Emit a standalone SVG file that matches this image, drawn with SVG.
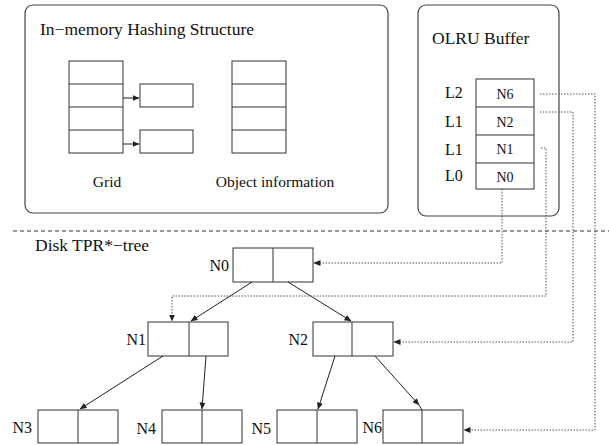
<svg xmlns="http://www.w3.org/2000/svg" width="609" height="445" viewBox="0 0 609 445" font-family="'Liberation Serif', 'DejaVu Serif', 'Times New Roman', serif">
<style>
text { font-family: "Liberation Serif", "DejaVu Serif", "Times New Roman", serif; fill: #111; }
.title { font-size: 17.5px; }
.lbl { font-size: 15.5px; }
.nl { font-size: 16px; text-anchor: end; }
.ll { font-size: 16px; }
.cell { font-size: 14px; text-anchor: middle; }
.box { fill: none; stroke: #333; stroke-width: 1; }
.panel { fill: none; stroke: #444; stroke-width: 1.2; }
.edge { fill: none; stroke: #222; stroke-width: 1; marker-end: url(#ah); }
.plain { fill: none; stroke: #222; stroke-width: 1; }
.dot { fill: none; stroke: #555; stroke-width: 1; stroke-dasharray: 1.5 1.5; }
.darr { marker-end: url(#ah); }
.sep { fill: none; stroke: #333; stroke-width: 1; stroke-dasharray: 4 3; }
</style>
<defs>
<marker id="ah" markerWidth="7" markerHeight="6" refX="6.5" refY="3" orient="auto" markerUnits="userSpaceOnUse">
<path d="M0,0 L7,3 L0,6 z" fill="#222"/>
</marker>
</defs>
<rect width="609" height="445" fill="#fff"/>

<g id="hashing">
<rect class="panel" x="25" y="5" width="363" height="208" rx="8"/>
<text class="title" x="40" y="35">In−memory Hashing Structure</text>
<g id="grid">
<rect class="box" x="69" y="61" width="54" height="92"/>
<line class="box" x1="69" y1="84" x2="123" y2="84"/>
<line class="box" x1="69" y1="107" x2="123" y2="107"/>
<line class="box" x1="69" y1="130" x2="123" y2="130"/>
<rect class="box" x="140" y="84" width="53" height="23"/>
<rect class="box" x="140" y="130" width="53" height="23"/>
<text class="lbl" x="107" y="187" text-anchor="middle">Grid</text>
</g>
<g id="objinfo">
<rect class="box" x="232" y="61" width="54" height="92"/>
<line class="box" x1="232" y1="84" x2="286" y2="84"/>
<line class="box" x1="232" y1="107" x2="286" y2="107"/>
<line class="box" x1="232" y1="130" x2="286" y2="130"/>
<text class="lbl" x="275" y="187" text-anchor="middle">Object information</text>
</g>
</g>

<g id="olru">
<rect class="panel" x="418" y="5" width="141" height="211" rx="8"/>
<text class="title" x="432" y="44">OLRU Buffer</text>
<rect class="box" x="476" y="79" width="58" height="110"/>
<line class="box" x1="476" y1="107" x2="534" y2="107"/>
<line class="box" x1="476" y1="135" x2="534" y2="135"/>
<line class="box" x1="476" y1="163" x2="534" y2="163"/>
<text class="ll" x="445" y="98">L2</text>
<text class="ll" x="445" y="127">L1</text>
<text class="ll" x="445" y="155">L1</text>
<text class="ll" x="445" y="181">L0</text>
<text class="cell" x="505" y="99">N6</text>
<text class="cell" x="505" y="127">N2</text>
<text class="cell" x="505" y="154">N1</text>
<text class="cell" x="505" y="182">N0</text>
</g>

<path class="sep" d="M13,231 H609"/>
<text class="title" x="35" y="251">Disk TPR*−tree</text>

<g id="N0">
<rect class="box" x="233" y="248" width="80" height="34"/>
<line class="box" x1="273" y1="248" x2="273" y2="282"/>
<text class="nl" x="229" y="271">N0</text>
</g>
<g id="N1">
<rect class="box" x="148" y="322" width="80" height="34"/>
<line class="box" x1="189" y1="322" x2="189" y2="356"/>
<text class="nl" x="146" y="345">N1</text>
</g>
<g id="N2">
<rect class="box" x="313" y="322" width="80" height="34"/>
<line class="box" x1="352" y1="322" x2="352" y2="356"/>
<text class="nl" x="308" y="345">N2</text>
</g>
<g id="N3">
<rect class="box" x="38" y="410" width="80" height="33"/>
<line class="box" x1="78" y1="410" x2="78" y2="443"/>
<text class="nl" x="32" y="433">N3</text>
</g>
<g id="N4">
<rect class="box" x="162" y="410" width="80" height="33"/>
<line class="box" x1="202" y1="410" x2="202" y2="443"/>
<text class="nl" x="156" y="434">N4</text>
</g>
<g id="N5">
<rect class="box" x="277" y="410" width="80" height="33"/>
<line class="box" x1="317" y1="410" x2="317" y2="443"/>
<text class="nl" x="271" y="434">N5</text>
</g>
<g id="N6">
<rect class="box" x="383" y="410" width="80" height="33"/>
<line class="box" x1="422" y1="410" x2="422" y2="443"/>
<text class="nl" x="382" y="433">N6</text>
</g>

<g id="connectors">
<path class="edge" d="M123,98 H139"/>
<path class="edge" d="M123,144 H139"/>
<path class="edge" d="M252,282 L191,321"/>
<path class="edge" d="M288,282 L351,321"/>
<path class="edge" d="M163,356 L80,409"/>
<path class="edge" d="M206,356 L202,409"/>
<path class="edge" d="M335,356 L318,409"/>
<path class="edge" d="M375,356 L419,405"/>
<path class="plain" d="M419,405 L422,410"/>
<path class="dot darr" d="M502,189 V263 H314"/>
<path class="dot darr" d="M541,148 H546 V296 H172 V321"/>
<path class="dot darr" d="M540,112 H573 V342 H394"/>
<path class="dot darr" d="M540,94 H595 V430 H464"/>
</g>
</svg>
